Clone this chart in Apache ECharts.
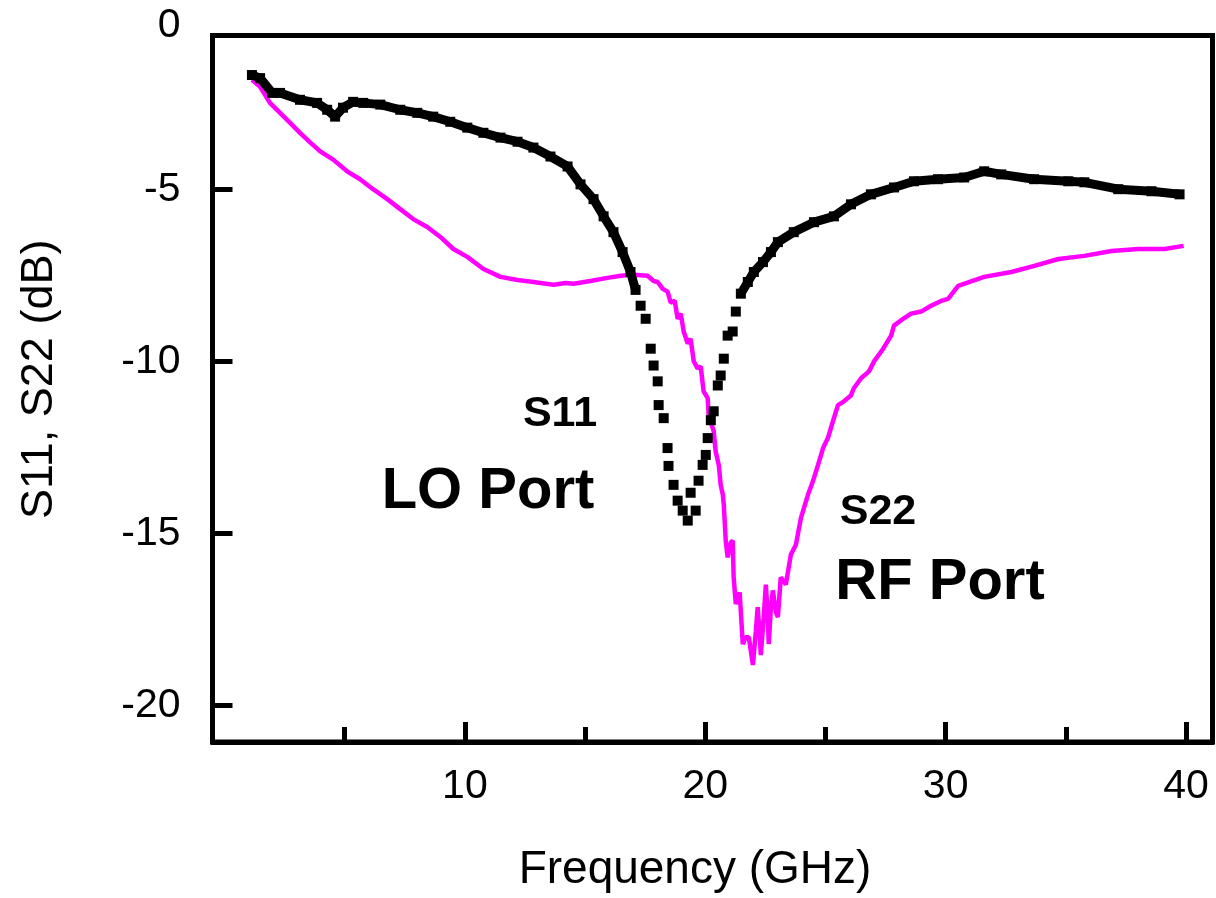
<!DOCTYPE html>
<html lang="en">
<head>
<meta charset="UTF-8">
<title>S11, S22 (dB)</title>
<style type="text/css">
	html, body { margin: 0; padding: 0; background: #fff; }
	#main { width: 1216px; height: 898px; }
</style>
</head>
<body>
<div id="main"></div>
<script type="text/javascript" src="https://cdn.jsdelivr.net/npm/echarts@6/dist/echarts.min.js"></script>
<script type="text/javascript">
// S11 (LO port), black squares
var s11Freq = [1.14,1.48,1.98,2.31,3.14,3.85,4.27,4.6,4.93,5.35,5.77,6.48,7.31,8.02,8.68,9.39,10.1,10.77,11.48,12.19,12.85,13.56,14.27,14.81,15.35,15.77,16.18,16.56,16.89,17.1,17.31,17.52,17.73,17.85,18.02,18.06,18.27,18.43,18.47,18.68,18.85,19.06,19.27,19.39,19.6,19.72,19.89,20.02,20.1,20.23,20.35,20.52,20.64,20.77,20.93,21.14,21.27,21.48,21.77,22.02,22.4,22.73,23.02,23.68,24.52,25.35,26.06,26.89,27.85,28.68,29.68,30.77,31.6,32.31,33.68,35.1,35.77,37.18,38.56,39.73];
var s11Db = [-1.67,-1.76,-2.19,-2.19,-2.39,-2.48,-2.68,-2.88,-2.62,-2.45,-2.48,-2.53,-2.68,-2.77,-2.88,-3.03,-3.2,-3.35,-3.49,-3.61,-3.78,-4.04,-4.33,-4.85,-5.28,-5.78,-6.24,-6.82,-7.4,-7.92,-8.38,-8.76,-9.63,-10.12,-10.58,-11.27,-11.65,-12.52,-13.04,-13.59,-14.05,-14.34,-14.63,-13.82,-14.34,-13.47,-13.01,-12.72,-12.23,-11.71,-11.45,-10.7,-10.41,-9.92,-9.25,-9.13,-8.55,-8.03,-7.69,-7.4,-7.11,-6.82,-6.53,-6.24,-5.95,-5.78,-5.43,-5.14,-4.94,-4.76,-4.7,-4.65,-4.47,-4.56,-4.7,-4.76,-4.79,-4.99,-5.05,-5.14];

// S22 (RF port), magenta line
var s22Freq = [1.14,1.48,1.89,2.31,2.73,3.14,3.56,3.98,4.52,5.1,5.64,6.18,6.77,7.31,7.85,8.43,8.98,9.52,10.1,10.77,11.48,12.19,12.85,13.69,14.19,14.52,15.22,15.93,16.48,17.02,17.6,17.85,18.02,18.23,18.43,18.56,18.73,18.85,18.98,19.1,19.27,19.39,19.52,19.68,19.81,19.93,20.1,20.14,20.35,20.43,20.56,20.64,20.73,20.77,20.85,20.93,21.06,21.14,21.18,21.27,21.43,21.56,21.68,21.81,21.98,22.1,22.18,22.27,22.31,22.43,22.52,22.6,22.64,22.73,22.81,22.94,23.02,23.14,23.35,23.56,23.77,23.98,24.27,24.48,24.69,24.9,25.1,25.31,25.52,25.77,26.06,26.18,26.48,26.81,27.02,27.4,27.73,27.85,28.23,28.56,28.98,29.39,29.81,30.1,30.52,31.6,32.73,33.69,34.69,35.77,36.9,38.02,39.1,39.9];
var s22Db = [-1.81,-2.01,-2.48,-2.77,-3.06,-3.35,-3.63,-3.89,-4.13,-4.47,-4.7,-4.99,-5.28,-5.57,-5.86,-6.09,-6.38,-6.73,-6.96,-7.31,-7.54,-7.63,-7.69,-7.77,-7.72,-7.74,-7.66,-7.57,-7.51,-7.48,-7.51,-7.66,-7.69,-7.89,-7.97,-8.29,-8.24,-8.76,-8.61,-9.13,-9.48,-9.34,-10.0,-10.2,-10.15,-10.87,-11.07,-11.57,-12.03,-12.61,-13.01,-13.59,-13.88,-14.17,-15.21,-15.7,-15.27,-15.21,-16.28,-17.06,-16.72,-18.22,-18.02,-18.02,-18.83,-17.87,-17.15,-18.02,-18.54,-17.44,-16.49,-17.44,-18.22,-17.15,-16.66,-17.3,-17.44,-16.28,-16.49,-15.62,-15.33,-14.55,-13.88,-13.48,-13.01,-12.52,-12.23,-11.74,-11.27,-11.16,-10.99,-10.78,-10.49,-10.29,-10.0,-9.63,-9.25,-8.96,-8.76,-8.61,-8.55,-8.38,-8.24,-8.18,-7.80,-7.54,-7.4,-7.22,-7.02,-6.93,-6.79,-6.73,-6.73,-6.64];

var xMajorTicks = [10, 20, 30, 40];
var xMinorTicks = [5, 15, 25, 35];
var yTicks = [-20, -15, -10, -5];
var yTopLabel = '0';
var xRange = [-0.5, 41.1];
var yRange = [-21.07, -0.52];
// inside this band the S11 points are drawn apart, not joined
var s11DotBand = [17.15, 21.3];

var FONT = '"Liberation Sans", Arial, sans-serif';

function pairs(xs, ys) {
	var out = [];
	for (var i = 0; i < xs.length; i++) out.push([xs[i], ys[i]]);
	return out;
}

var s11All = pairs(s11Freq, s11Db);
var s11Left = s11All.filter(function (p) { return p[0] < s11DotBand[0]; });
var s11Right = s11All.filter(function (p) { return p[0] > s11DotBand[1]; });
var s22All = pairs(s22Freq, s22Db);

var chart = echarts.init(document.getElementById('main'));

var baseAxis = {
	type: 'value',
	min: xRange[0],
	max: xRange[1],
	splitLine: { show: false }
};

var option = {
	animation: false,
	backgroundColor: '#fff',
	grid: {
		left: 212.5, right: 3.5, top: 35.5, bottom: 152.5,
		show: true, borderColor: '#000', borderWidth: 5
	},
	xAxis: [
		Object.assign({}, baseAxis, {
			position: 'bottom',
			name: 'Frequency (GHz)',
			nameLocation: 'middle',
			nameGap: 105,
			nameTextStyle: { fontFamily: FONT, fontSize: 46, color: '#000', padding: [0, 35, 0, 0] },
			axisLine: { show: true, onZero: false, lineStyle: { color: '#000', width: 5 } },
			axisTick: { show: true, inside: true, length: 20, lineStyle: { color: '#000', width: 5 }, customValues: xMajorTicks },
			axisLabel: { show: true, customValues: xMajorTicks, margin: 24, fontFamily: FONT, fontSize: 41, color: '#000' }
		}),
		Object.assign({}, baseAxis, {
			position: 'bottom',
			axisLine: { show: false, onZero: false },
			axisTick: { show: true, inside: true, length: 15, lineStyle: { color: '#000', width: 5 }, customValues: xMinorTicks },
			axisLabel: { show: false }
		})
	],
	yAxis: {
		type: 'value',
		min: yRange[0],
		max: yRange[1],
		splitLine: { show: false },
		name: 'S11, S22 (dB)',
		nameLocation: 'middle',
		nameRotate: 90,
		nameGap: 150,
		nameTextStyle: { fontFamily: FONT, fontSize: 45, color: '#000', padding: [0, 0, 0, 19] },
		axisLine: { show: true, onZero: false, lineStyle: { color: '#000', width: 5 } },
		axisTick: { show: true, inside: true, length: 20, lineStyle: { color: '#000', width: 5 }, customValues: yTicks },
		axisLabel: { show: true, customValues: yTicks, margin: 32, fontFamily: FONT, fontSize: 41, color: '#000' }
	},
	series: [
		{
			name: 'S22', type: 'line', data: s22All, showSymbol: false,
			lineStyle: { color: '#ff00ff', width: 4.5 }, z: 2
		},
		{
			name: 'S11a', type: 'line', data: s11Left, showSymbol: false,
			lineStyle: { color: '#000', width: 9 }, z: 3
		},
		{
			name: 'S11b', type: 'line', data: s11Right, showSymbol: false,
			lineStyle: { color: '#000', width: 9 }, z: 3
		},
		{
			name: 'S11', type: 'scatter', data: s11All, symbol: 'rect', symbolSize: 10,
			itemStyle: { color: '#000', opacity: 1 }, z: 4
		}
	]
};
chart.setOption(option);

// the "0" label sits just above the frame, outside the axis range
var plotLeft = 212.5;
var y0 = chart.convertToPixel({ yAxisIndex: 0 }, 0);
chart.setOption({
	graphic: [
		{ type: 'text', x: plotLeft - 32, y: Math.max(y0, 26), style: { text: yTopLabel, fontFamily: FONT, fontSize: 41, fill: '#000', align: 'right', verticalAlign: 'middle' } },
		{ type: 'text', x: 560, y: 414, style: { text: 'S11', fontFamily: FONT, fontWeight: 'bold', fontSize: 43, fill: '#000', align: 'center', verticalAlign: 'middle' } },
		{ type: 'text', x: 488, y: 492, style: { text: 'LO Port', fontFamily: FONT, fontWeight: 'bold', fontSize: 58, fill: '#000', align: 'center', verticalAlign: 'middle' } },
		{ type: 'text', x: 878, y: 512, style: { text: 'S22', fontFamily: FONT, fontWeight: 'bold', fontSize: 43, fill: '#000', align: 'center', verticalAlign: 'middle' } },
		{ type: 'text', x: 940, y: 583, style: { text: 'RF Port', fontFamily: FONT, fontWeight: 'bold', fontSize: 58, fill: '#000', align: 'center', verticalAlign: 'middle' } }
	]
});
</script>
</body>
</html>
